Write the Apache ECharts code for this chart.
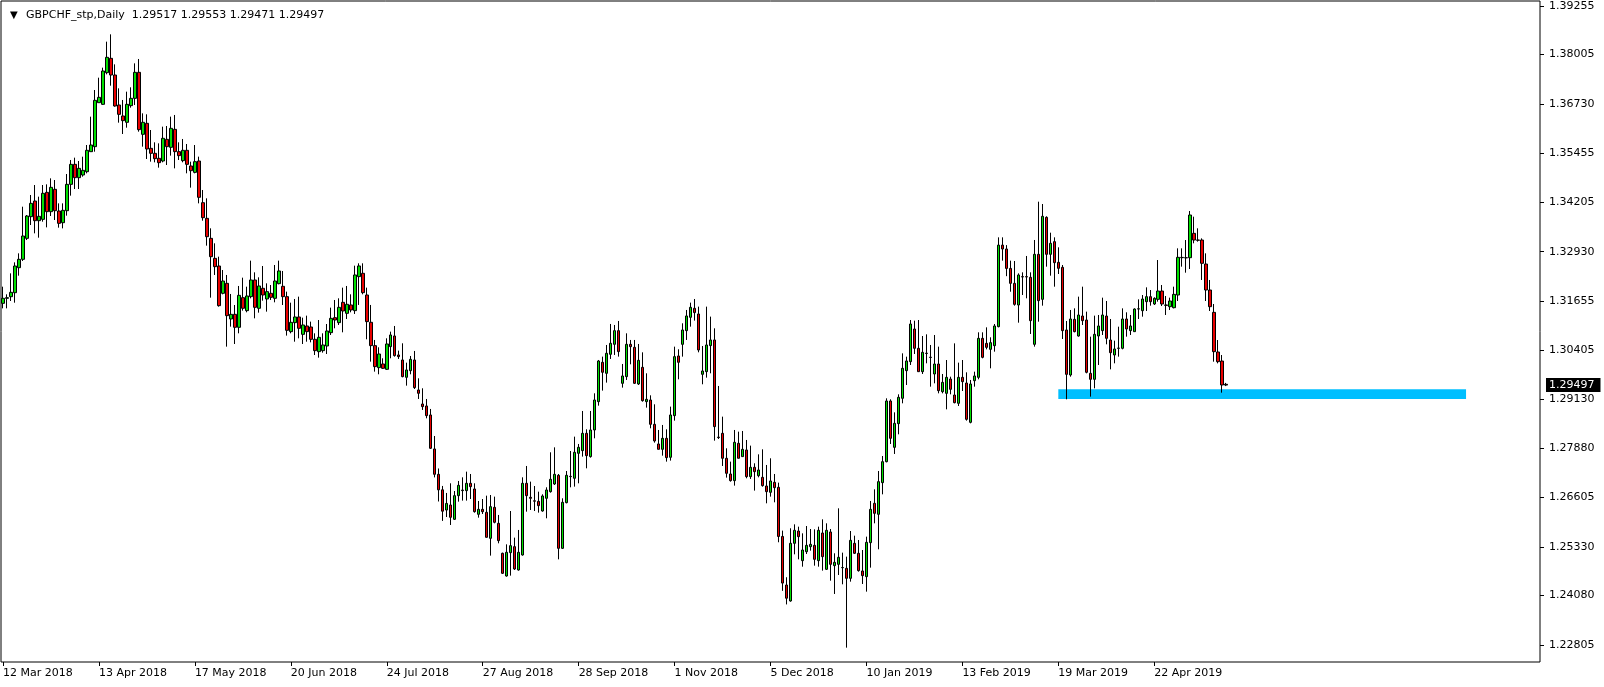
<!DOCTYPE html>
<html><head><meta charset="utf-8">
<script src="https://cdn.jsdelivr.net/npm/echarts@6/dist/echarts.min.js"></script>
<style>html,body{margin:0;padding:0;background:#fff}#c{width:1604px;height:687px}</style>
</head><body><div id="c"></div>
<script>
const symbolName = 'GBPCHF_stp,Daily';

const opens = [
1.31601,1.31730,1.31772,1.31875,1.32519,1.32734,1.33274,1.33832,1.34235,1.33729,
1.33763,1.34458,1.33961,1.34536,1.33978,1.33677,1.33986,1.34664,1.35179,1.34836,
1.34905,1.34990,1.35505,1.35634,1.36767,1.36724,1.37539,1.37908,1.37479,1.36707,
1.36424,1.36261,1.36690,1.36878,1.37548,1.35952,1.36235,1.35591,1.35463,1.35334,
1.35265,1.35823,1.35617,1.36080,1.35506,1.35274,1.35540,1.35137,1.34973,1.35265,
1.34192,1.33789,1.33274,1.32759,1.32562,1.31859,1.32116,1.31198,1.31318,1.30984,
1.31747,1.31413,1.31773,1.32202,1.31473,1.31988,1.31713,1.31859,1.31730,1.32108,
1.32039,1.31773,1.30872,1.31104,1.31250,1.30803,1.31018,1.30992,1.30675,1.30357,
1.30383,1.30503,1.30846,1.31232,1.31104,1.31627,1.31344,1.31559,1.31413,1.32288,
1.32374,1.31816,1.31113,1.30512,1.29946,1.30040,1.29903,1.30486,1.30761,1.30272,
1.30143,1.29697,1.29868,1.30143,1.29371,1.29010,1.28959,1.28727,1.27852,1.27200,
1.26800,1.26280,1.26410,1.26041,1.26650,1.26780,1.26779,1.26968,1.26822,1.26170,
1.26298,1.26221,1.25552,1.26350,1.25938,1.25166,1.24582,1.25183,1.25337,1.24737,
1.25123,1.26968,1.26607,1.26518,1.26504,1.26255,1.26582,1.26753,1.26951,1.27174,
1.25294,1.26470,1.27140,1.27097,1.27740,1.27809,1.28255,1.27655,1.28341,1.29070,
1.30083,1.29800,1.30289,1.30546,1.30898,1.29542,1.29714,1.30546,1.30469,1.29525,
1.29954,1.29070,1.29113,1.28487,1.27981,1.27843,1.28126,1.27638,1.28710,1.30246,
1.30546,1.30898,1.31241,1.31473,1.31327,1.29774,1.29843,1.30512,1.30658,1.28158,
1.28255,1.27612,1.27208,1.27037,1.27998,1.27655,1.27826,1.27140,1.27380,1.27165,
1.27122,1.26899,1.26736,1.26994,1.26865,1.25600,1.24350,1.23939,1.25423,1.25740,
1.24977,1.25208,1.25337,1.25371,1.24977,1.25689,1.24754,1.25715,1.24848,1.24882,
1.24796,1.24779,1.24522,1.25423,1.25166,1.24711,1.24565,1.25440,1.26453,1.26170,
1.26985,1.27525,1.29087,1.27894,1.28504,1.29156,1.29868,1.30100,1.30940,1.30443,
1.29842,1.30310,1.30215,1.29782,1.30039,1.29327,1.29284,1.29653,1.29241,1.29027,
1.29696,1.29550,1.28538,1.29610,1.29696,1.30700,1.30571,1.30417,1.30511,1.31001,
1.33100,1.33000,1.32500,1.32116,1.31558,1.32288,1.32288,1.32271,1.30546,1.32863,
1.31704,1.33815,1.32863,1.33189,1.32657,1.32528,1.30915,1.29756,1.31189,1.30760,
1.31275,1.31172,1.29799,1.29645,1.30760,1.30898,1.31275,1.30657,1.30271,1.30443,
1.30443,1.31198,1.30898,1.30872,1.31455,1.31412,1.31644,1.31773,1.31584,1.31704,
1.31918,1.31558,1.31515,1.31489,1.31815,1.32776,1.32776,1.32776,1.33403,1.33231,
1.33231,1.32613,1.31944,1.31369,1.30348,1.30116,1.29517
];

const closes = [
1.31730,1.31747,1.31884,1.32562,1.32734,1.33334,1.33849,1.34175,1.33729,1.33841,
1.34433,1.33961,1.34587,1.33986,1.33660,1.33995,1.34664,1.35179,1.34836,1.35076,
1.35025,1.35540,1.35677,1.36827,1.36904,1.37582,1.37934,1.37479,1.36681,1.36466,
1.36304,1.36724,1.36878,1.37548,1.36072,1.36261,1.35574,1.35463,1.35325,1.35222,
1.35849,1.35634,1.36106,1.35506,1.35403,1.35540,1.35179,1.35016,1.35248,1.34330,
1.33806,1.33317,1.32802,1.32545,1.31541,1.32176,1.31284,1.31318,1.30984,1.31807,
1.31473,1.31790,1.32202,1.31498,1.32048,1.31816,1.31902,1.31756,1.32176,1.32434,
1.31773,1.30906,1.31112,1.31250,1.30958,1.31044,1.30872,1.30675,1.30383,1.30726,
1.30529,1.30889,1.31215,1.31172,1.31498,1.31404,1.31576,1.31430,1.32331,1.32563,
1.31876,1.31130,1.30512,1.29971,1.30297,1.29928,1.30555,1.30787,1.30255,1.30229,
1.29714,1.29886,1.30160,1.29431,1.29285,1.28942,1.28710,1.27869,1.27200,1.26800,
1.26250,1.26450,1.26093,1.26650,1.26916,1.26795,1.26968,1.26882,1.26238,1.26298,
1.26238,1.25578,1.26367,1.25964,1.25492,1.24651,1.25192,1.25363,1.24762,1.25192,
1.26968,1.26650,1.26582,1.26508,1.26393,1.26642,1.26796,1.27071,1.27199,1.25294,
1.26479,1.27174,1.27148,1.27766,1.27895,1.28255,1.27680,1.28341,1.29113,1.30117,
1.29826,1.30315,1.30572,1.30898,1.30358,1.29731,1.30546,1.30486,1.29542,1.30134,
1.29096,1.29130,1.28487,1.28058,1.27843,1.28126,1.27629,1.28727,1.30229,1.30083,
1.30915,1.31276,1.31499,1.31362,1.30400,1.29860,1.30529,1.30658,1.28427,1.28145,
1.27612,1.27225,1.27037,1.28024,1.27612,1.27843,1.27140,1.27380,1.27268,1.27311,
1.26908,1.26753,1.27028,1.26856,1.25600,1.24400,1.24010,1.25423,1.25758,1.25595,
1.25251,1.25371,1.25397,1.25011,1.25758,1.25080,1.25758,1.24882,1.24934,1.25063,
1.24800,1.24522,1.25500,1.25166,1.24720,1.24591,1.25449,1.26298,1.26195,1.27011,
1.27525,1.29087,1.28126,1.28512,1.29182,1.29928,1.30117,1.31069,1.30443,1.29842,
1.30340,1.30318,1.30207,1.30039,1.29353,1.29567,1.29696,1.29387,1.29044,1.29696,
1.29585,1.28615,1.29525,1.29731,1.30700,1.30211,1.30468,1.30589,1.31018,1.33100,
1.33000,1.32500,1.32116,1.31575,1.32331,1.32280,1.32280,1.31155,1.32863,1.31670,
1.33841,1.32863,1.33146,1.32648,1.32502,1.30898,1.29773,1.31198,1.30872,1.31301,
1.31155,1.29825,1.29645,1.30803,1.31018,1.31301,1.30700,1.30331,1.30426,1.30450,
1.31198,1.30940,1.31018,1.31455,1.31460,1.31712,1.31773,1.31644,1.31730,1.31918,
1.31584,1.31550,1.31661,1.31832,1.32785,1.32784,1.32772,1.33875,1.33231,1.33225,
1.32631,1.31944,1.31515,1.30357,1.30099,1.29499,1.29497
];

const lows = [
1.31472,1.31472,1.31661,1.31618,1.32313,1.32691,1.33231,1.33617,1.33403,1.33291,
1.33703,1.33557,1.33849,1.33746,1.33549,1.33531,1.33858,1.34373,1.34544,1.34544,
1.34862,1.34947,1.35505,1.35505,1.36767,1.36707,1.37496,1.37204,1.36664,1.36252,
1.35960,1.36123,1.36638,1.36707,1.36020,1.35634,1.35317,1.35248,1.35231,1.35094,
1.35231,1.35162,1.35403,1.35076,1.35291,1.35231,1.34948,1.34579,1.34948,1.34175,
1.33729,1.33086,1.31747,1.32331,1.31515,1.31833,1.30486,1.31001,1.30554,1.30829,
1.31413,1.31370,1.31730,1.31215,1.31361,1.31670,1.31387,1.31687,1.31627,1.32090,
1.31558,1.30770,1.30829,1.30614,1.30700,1.30554,1.30614,1.30597,1.30271,1.30203,
1.30331,1.30297,1.30786,1.30958,1.31044,1.30855,1.31198,1.31370,1.31327,1.31559,
1.31833,1.30675,1.30100,1.29843,1.29774,1.29911,1.29886,1.30186,1.30229,1.30169,
1.29697,1.29482,1.29774,1.29396,1.29139,1.28856,1.28641,1.27852,1.27120,1.26500,
1.26000,1.26100,1.25895,1.26024,1.26496,1.26522,1.26522,1.26564,1.26213,1.26084,
1.26178,1.25569,1.25106,1.25938,1.25423,1.24634,1.24565,1.24591,1.24737,1.24720,
1.25106,1.26238,1.26281,1.26255,1.26213,1.26238,1.26067,1.26728,1.26925,1.25011,
1.25277,1.26453,1.26865,1.26882,1.26968,1.27655,1.27354,1.27629,1.28126,1.28967,
1.29354,1.29560,1.30169,1.30272,1.30229,1.29431,1.29628,1.30031,1.29525,1.29499,
1.29070,1.28916,1.28384,1.28015,1.27843,1.27680,1.27526,1.27552,1.28581,1.29645,
1.30229,1.30658,1.31001,1.31156,1.30340,1.29517,1.29688,1.29800,1.28066,1.28109,
1.27414,1.27114,1.27011,1.26908,1.27612,1.27655,1.27097,1.27080,1.26780,1.27122,
1.26882,1.26453,1.26625,1.26479,1.25450,1.24200,1.23850,1.23921,1.25140,1.25011,
1.24822,1.25148,1.25234,1.24848,1.24822,1.24720,1.24737,1.24462,1.24119,1.24608,
1.24368,1.22737,1.24436,1.25148,1.24694,1.24376,1.24179,1.24797,1.25938,1.25269,
1.26684,1.27508,1.27980,1.27723,1.28229,1.29027,1.29499,1.30014,1.30297,1.29842,
1.29782,1.30057,1.29456,1.29542,1.29284,1.29284,1.28872,1.29259,1.29027,1.28958,
1.29344,1.28581,1.28512,1.29456,1.29645,1.30185,1.30417,1.29928,1.30357,1.30983,
1.32700,1.32300,1.31900,1.31541,1.31103,1.31816,1.31730,1.30812,1.30486,1.31129,
1.31541,1.32545,1.32313,1.32030,1.32356,1.30683,1.29130,1.29713,1.30855,1.30743,
1.31043,1.29799,1.29199,1.29413,1.30014,1.30786,1.30546,1.29902,1.30057,1.30228,
1.30417,1.30743,1.30786,1.30872,1.31198,1.31258,1.31404,1.31541,1.31558,1.31644,
1.31532,1.31301,1.31429,1.31472,1.31661,1.32545,1.32390,1.32485,1.33146,1.33189,
1.32202,1.31661,1.31404,1.30099,1.30056,1.29301,1.29471
];

const highs = [
1.32030,1.31833,1.32373,1.32656,1.32888,1.34089,1.33875,1.34390,1.34647,1.34347,
1.34647,1.34664,1.34819,1.34776,1.34175,1.34175,1.34930,1.35291,1.35351,1.35265,
1.35376,1.35677,1.36406,1.37093,1.37410,1.37668,1.38337,1.38526,1.37753,1.37136,
1.36836,1.37050,1.37162,1.37779,1.37891,1.36492,1.36467,1.36063,1.35746,1.35720,
1.36149,1.36166,1.36407,1.36450,1.35746,1.35832,1.35703,1.35248,1.35677,1.35377,
1.34519,1.34304,1.33532,1.33146,1.32802,1.32459,1.32331,1.31842,1.31558,1.32048,
1.32262,1.32030,1.32700,1.32399,1.32271,1.32562,1.32116,1.32073,1.32588,1.32700,
1.32434,1.31902,1.31618,1.31713,1.31773,1.31232,1.31284,1.31130,1.30829,1.31172,
1.30829,1.31069,1.31490,1.31687,1.31730,1.32005,1.32048,1.31833,1.32571,1.32631,
1.32631,1.32005,1.31559,1.30658,1.30469,1.30186,1.30701,1.30872,1.31018,1.30383,
1.30572,1.30074,1.30246,1.30375,1.29671,1.29414,1.29139,1.28882,1.28186,1.27350,
1.26900,1.26720,1.26968,1.26770,1.27028,1.27122,1.27268,1.27208,1.26968,1.26513,
1.26564,1.26650,1.26667,1.26625,1.26153,1.25183,1.25397,1.26255,1.25569,1.25767,
1.27122,1.27414,1.27011,1.26899,1.26753,1.26685,1.26865,1.27766,1.27894,1.27208,
1.26582,1.27285,1.27800,1.28169,1.27981,1.28830,1.28358,1.28830,1.29285,1.30143,
1.30229,1.30529,1.31070,1.31044,1.31147,1.30040,1.30829,1.30658,1.30658,1.30555,
1.30340,1.29800,1.29233,1.29002,1.28341,1.28470,1.28358,1.28942,1.30486,1.30418,
1.31087,1.31430,1.31619,1.31713,1.31516,1.30503,1.31516,1.31259,1.30958,1.29474,
1.28684,1.27869,1.27526,1.28341,1.28298,1.28315,1.28084,1.27938,1.27483,1.27714,
1.27843,1.27440,1.27612,1.27208,1.26985,1.25750,1.24550,1.25810,1.25912,1.25852,
1.25680,1.25869,1.25792,1.25783,1.25852,1.26041,1.25938,1.25792,1.25166,1.26324,
1.25183,1.25080,1.25740,1.25620,1.25509,1.25251,1.25595,1.26513,1.26813,1.27285,
1.27671,1.29156,1.29130,1.28795,1.29259,1.30314,1.30228,1.31172,1.31155,1.31172,
1.30760,1.30803,1.30529,1.30786,1.30486,1.29782,1.30142,1.29713,1.30571,1.30074,
1.30142,1.29825,1.29628,1.29842,1.30855,1.30855,1.30983,1.30726,1.31069,1.33300,
1.33300,1.33100,1.32700,1.32691,1.32373,1.32399,1.32820,1.32399,1.33232,1.34218,
1.34158,1.33841,1.33420,1.33300,1.33043,1.32588,1.31146,1.31430,1.31472,1.31773,
1.32030,1.31387,1.30743,1.31284,1.31301,1.31747,1.31661,1.31198,1.30640,1.31000,
1.31472,1.31370,1.31301,1.31472,1.31704,1.31815,1.32013,1.31944,1.31755,1.32716,
1.32073,1.31790,1.31747,1.32030,1.33017,1.33017,1.33231,1.33978,1.33832,1.33532,
1.33274,1.32888,1.32202,1.31584,1.30657,1.30271,1.29553
];

const yTickValues = [1.39255,1.38005,1.36730,1.35455,1.34205,1.32930,1.31655,1.30405,1.29130,1.27880,1.26605,1.25330,1.24080,1.22805];
const xTickLabels = ['12 Mar 2018','13 Apr 2018','17 May 2018','20 Jun 2018','24 Jul 2018','27 Aug 2018','28 Sep 2018','1 Nov 2018','5 Dec 2018','10 Jan 2019','13 Feb 2019','19 Mar 2019','22 Apr 2019'];
const xTickEvery = 24;
const supportZone = { low: 1.29140, high: 1.29390, startIndex: 264, endIndex: 366 };
const Y_MIN = 1.22368, Y_MAX = 1.39384;
const SLOTS = 385;

function tradingDays(n) {
  const M = ['Jan','Feb','Mar','Apr','May','Jun','Jul','Aug','Sep','Oct','Nov','Dec'];
  const out = [];
  const d = new Date(Date.UTC(2018, 2, 12));
  while (out.length < n) {
    const wd = d.getUTCDay(), m = d.getUTCMonth(), dd = d.getUTCDate();
    const hol = (m === 11 && dd === 25) || (m === 0 && dd === 1);
    if (wd !== 0 && wd !== 6 && !hol) out.push(dd + ' ' + M[m] + ' ' + d.getUTCFullYear());
    d.setUTCDate(d.getUTCDate() + 1);
  }
  return out;
}
const categories = tradingDays(SLOTS);
const ohlc = opens.map((o, i) => [o, closes[i], lows[i], highs[i]]);
const last = opens.length - 1;
const header = symbolName + '  ' + [opens[last], highs[last], lows[last], closes[last]].map(v => v.toFixed(5)).join(' ');
const showIdx = (idx) => idx % xTickEvery === 0 && idx / xTickEvery < xTickLabels.length;
const FONT = 'DejaVu Sans';

const chart = echarts.init(document.getElementById('c'), null, { renderer: 'canvas' });
chart.setOption({
  animation: false,
  backgroundColor: '#ffffff',
  title: {
    text: '{t|▼}{s|' + header + '}',
    left: 5, top: 5,
    textStyle: { fontWeight: 'normal', rich: {
      t: { fontSize: 10, width: 16, color: '#000', fontFamily: FONT, fontWeight: 'normal' },
      s: { fontSize: 11, color: '#000', fontFamily: FONT, fontWeight: 'normal' }
    } }
  },
  grid: { left: 1, top: 1, right: 64, bottom: 25, show: true, borderColor: '#000', borderWidth: 1, backgroundColor: '#fff' },
  xAxis: {
    type: 'category', data: categories, boundaryGap: true,
    axisLine: { show: false },
    axisTick: { show: true, alignWithLabel: true, interval: showIdx, length: 4, lineStyle: { color: '#000' } },
    axisLabel: { interval: showIdx, formatter: (v, i) => xTickLabels[i / xTickEvery], align: 'left',
      fontSize: 11, color: '#000', fontFamily: FONT, margin: 6 },
    splitLine: { show: false }
  },
  yAxis: [{
    type: 'value', position: 'right', min: Y_MIN, max: Y_MAX,
    axisLine: { show: false }, splitLine: { show: false },
    axisTick: { show: true, customValues: yTickValues, length: 4, lineStyle: { color: '#000' } },
    axisLabel: { customValues: yTickValues, formatter: v => v.toFixed(5), fontSize: 11, color: '#000', fontFamily: FONT, margin: 9 }
  }, {
    type: 'value', position: 'right', min: Y_MIN, max: Y_MAX,
    axisLine: { show: false }, splitLine: { show: false }, axisTick: { show: false },
    axisLabel: { customValues: [closes[last]], formatter: v => v.toFixed(5), fontSize: 11, color: '#fff', fontFamily: FONT,
      backgroundColor: '#000', padding: [2, 6, 1, 3], margin: 6 }
  }],
  series: [{
    type: 'candlestick',
    data: ohlc,
    barWidth: 3,
    itemStyle: { color: '#00e000', color0: '#e80000', borderColor: '#000', borderColor0: '#000', borderColorDoji: '#000', borderWidth: 1 },
    markArea: {
      silent: true,
      itemStyle: { color: '#00bfff', opacity: 1 },
      data: [[{ xAxis: supportZone.startIndex, yAxis: supportZone.high }, { xAxis: supportZone.endIndex, yAxis: supportZone.low }]]
    }
  }]
});
</script>
</body></html>
